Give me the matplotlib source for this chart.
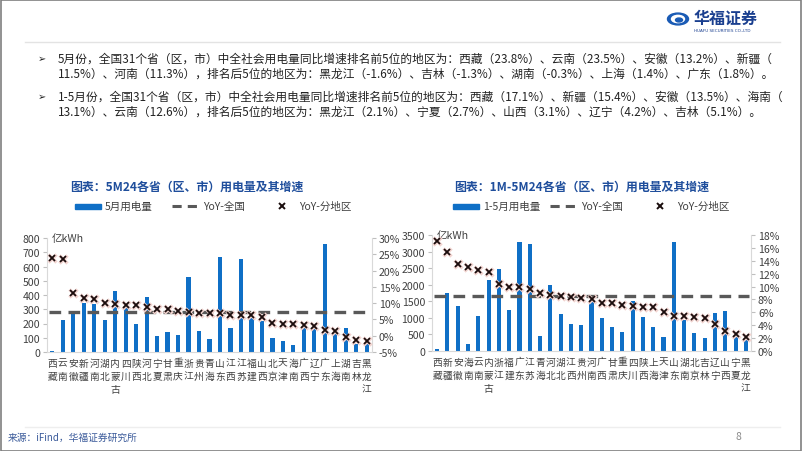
import matplotlib
matplotlib.use("Agg")
from matplotlib import pyplot as plt
from matplotlib.patches import Rectangle, Circle
from matplotlib.lines import Line2D
import numpy as np

plt.rcParams['font.family'] = ['Noto Sans CJK SC', 'DejaVu Sans']
plt.rcParams['axes.unicode_minus'] = False

# 5月 data
cats_5m = ['西藏', '云南', '安徽', '新疆', '河南', '湖北', '内蒙古', '四川', '陕西', '河北', '宁夏',
           '甘肃', '重庆', '浙江', '贵州', '青海', '山东', '江西', '江苏', '福建', '山西', '北京',
           '天津', '海南', '广西', '辽宁', '广东', '上海', '湖南', '吉林', '黑龙江']
power_5m = [10, 225, 284, 343, 336, 225, 428, 310, 200, 385, 113,
            141, 122, 526, 146, 88, 665, 168, 652, 242, 220, 95,
            80, 47, 172, 160, 757, 124, 170, 58, 54]
yoy_5m = [23.8, 23.5, 13.2, 11.5, 11.3, 9.9, 9.8, 9.5, 9.3, 8.8, 8.3,
          8.3, 7.5, 7.3, 7.0, 6.9, 6.9, 6.5, 6.3, 6.3, 5.7, 3.9,
          3.7, 3.6, 3.4, 3.0, 1.8, 1.4, -0.3, -1.3, -1.6]
yoy_all_5m = 7.2

# 1-5月 data
cats_15m = ['西藏', '新疆', '安徽', '海南', '云南', '内蒙古', '浙江', '福建', '广东', '江苏', '青海',
            '河北', '湖北', '江西', '贵州', '河南', '广西', '甘肃', '重庆', '四川', '陕西', '上海',
            '天津', '山东', '湖南', '北京', '吉林', '辽宁', '山西', '宁夏', '黑龙江']
power_15m = [60, 1755, 1370, 203, 1060, 2135, 2475, 1227, 3290, 3235, 446,
             2005, 1105, 825, 775, 1520, 1010, 710, 588, 1515, 1028, 735,
             428, 3290, 925, 548, 398, 1135, 1210, 480, 405]
yoy_15m = [17.1, 15.4, 13.5, 13.1, 12.6, 12.2, 10.4, 10.0, 9.9, 9.6, 9.0,
           8.7, 8.6, 8.4, 8.3, 8.0, 7.5, 7.4, 7.2, 7.0, 6.8, 6.8,
           6.0, 5.5, 5.4, 5.2, 5.1, 4.2, 3.1, 2.7, 2.1]
yoy_all_15m = 8.6

W, H = 802, 452
BLUE = '#0f6fc6'
TITLE = '#1f4e9c'
GREY = '#595959'
TXT = '#404040'
FS = 7.6


def rect(x0, y0, x1, y1):
    return [x0 / W, 1 - y1 / H, (x1 - x0) / W, (y1 - y0) / H]


def fx(x):
    return x / W


def fy(y):
    return 1 - y / H


fig = plt.figure(figsize=(W / 100, H / 100), dpi=100)

# slide frame, header/footer rules
fig.patches.append(Rectangle((0.5 / W, 0.5 / H), 1 - 1.5 / W, 1 - 1.5 / H, transform=fig.transFigure,
                             fill=False, edgecolor='#7f7f7f', lw=1.2))
fig.add_artist(Line2D([fx(25), fx(780)], [fy(43), fy(43)], color='#e3e3e3', lw=1))
fig.add_artist(Line2D([fx(25), fx(780)], [fy(428), fy(428)], color='#eeeeee', lw=1))

# logo
fig.patches.append(Circle((fx(678), fy(20)), 10.5 / W, transform=fig.transFigure, color='#1a5bb5'))
fig.patches.append(Circle((fx(678), fy(20)), 6.5 / W, transform=fig.transFigure, color='white'))
fig.patches.append(Circle((fx(679), fy(21)), 3.5 / W, transform=fig.transFigure, color='#1a5bb5'))
fig.text(fx(694), fy(19), '华福证券', fontsize=11.5, fontweight='bold', color='#1a3f8f', va='center')
fig.text(fx(694), fy(31), 'HUAFU SECURITIES CO.,LTD', fontsize=3, color='#1a3f8f', va='center',
         family='DejaVu Sans')

# bullet text
lines = [
    (59, '5月份，全国31个省（区，市）中全社会用电量同比增速排名前5位的地区为：西藏（23.8%）、云南（23.5%）、安徽（13.2%）、新疆（'),
    (74, '11.5%）、河南（11.3%），排名后5位的地区为：黑龙江（-1.6%）、吉林（-1.3%）、湖南（-0.3%）、上海（1.4%）、广东（1.8%）。'),
    (97, '1-5月份，全国31个省（区，市）中全社会用电量同比增速排名前5位的地区为：西藏（17.1%）、新疆（15.4%）、安徽（13.5%）、海南（'),
    (112, '13.1%）、云南（12.6%），排名后5位的地区为：黑龙江（2.1%）、宁夏（2.7%）、山西（3.1%）、辽宁（4.2%）、吉林（5.1%）。'),
]
for y, s in lines:
    fig.text(fx(58), fy(y), s, fontsize=8.45, color='#222222', va='center')
for y in (59, 97):
    fig.text(fx(38), fy(y), '➢', fontsize=7, color='#222222', va='center', family='DejaVu Sans')

# footer
fig.text(fx(8), fy(438), '来源：iFind，华福证券研究所', fontsize=7, color='#3a5a9a', va='center', style='italic')
fig.text(fx(736), fy(437), '8', fontsize=7.5, color='#8c8c8c', va='center')


def draw_chart(box, cats, power, yoy, yoy_all, ymax, ystep, rlim, rstep, title, tx, legend_x, bar_label):
    ax = fig.add_axes(rect(*box))
    x = np.arange(len(cats))
    ax.bar(x, power, width=0.4, color=BLUE, zorder=2)
    ax.set_xlim(-0.5, len(cats) - 0.5)
    ax.set_ylim(0, ymax)
    ax.set_yticks(np.arange(0, ymax + 1, ystep))
    ax.set_xticks(x)
    ax.set_xticklabels(['\n'.join(c) for c in cats], fontsize=7.0, color=TXT, va='top', linespacing=1.4)
    ax.tick_params(axis='x', length=0, pad=4)
    ax.tick_params(axis='y', labelsize=FS, labelcolor=TXT, length=3, color='#bfbfbf', pad=2)
    for s in ('top', 'right'):
        ax.spines[s].set_visible(False)
    for s in ('left', 'bottom'):
        ax.spines[s].set_color('#d9d9d9')
    ax.text(0.015, 1.0, '亿kWh', transform=ax.transAxes, fontsize=FS, color=TXT, va='center')

    ax2 = ax.twinx()
    ax2.set_ylim(*rlim)
    ax2.set_yticks(np.arange(rlim[0], rlim[1] + 0.1, rstep))
    ax2.set_yticklabels(['%d%%' % v for v in np.arange(rlim[0], rlim[1] + 0.1, rstep)])
    ax2.tick_params(axis='y', labelsize=FS, labelcolor=TXT, length=3, color='#bfbfbf', pad=2)
    for s in ('top', 'left', 'bottom'):
        ax2.spines[s].set_visible(False)
    ax2.spines['right'].set_color('#d9d9d9')
    ax2.plot([-0.3, len(cats) - 0.7], [yoy_all, yoy_all], color=GREY, lw=2.4, dashes=(3.5, 2.2), zorder=3)
    ax2.plot(x, yoy, 'x', color='#f2d4d0', ms=5.5, mew=2.4, zorder=4)
    ax2.plot(x, yoy, 'x', color='#1a0d0d', ms=5, mew=1.3, zorder=5)

    fig.text(fx(tx), fy(187), title, fontsize=8.6, fontweight='bold', color=TITLE, ha='center', va='center')
    lx = legend_x
    fig.patches.append(Rectangle((fx(lx), fy(209.5)), 26 / W, 4.5 / H, transform=fig.transFigure, color=BLUE))
    fig.text(fx(lx + 30), fy(207), bar_label, fontsize=FS, color=TXT, va='center')
    fig.add_artist(Line2D([fx(lx + 97), fx(lx + 123)], [fy(207), fy(207)], color=GREY, lw=2.2,
                          dashes=(3, 2)))
    fig.text(fx(lx + 128), fy(207), 'YoY-全国', fontsize=FS, color=TXT, va='center')
    fig.add_artist(Line2D([fx(lx + 207)], [fy(207)], marker='x', color='#1a0d0d', ms=4.5, mew=1.4))
    fig.text(fx(lx + 224), fy(207), 'YoY-分地区', fontsize=FS, color=TXT, va='center')


draw_chart((47, 239, 372, 353), cats_5m, power_5m, yoy_5m, yoy_all_5m, 800, 100, (-5, 30), 5,
           '图表：5M24各省（区、市）用电量及其增速', 187, 75, '5月用电量')
draw_chart((432, 236, 751, 352), cats_15m, power_15m, yoy_15m, yoy_all_15m, 3500, 500, (0, 18), 2,
           '图表：1M-5M24各省（区、市）用电量及其增速', 582, 453, '1-5月用电量')

fig.savefig('out.png', dpi=100)
